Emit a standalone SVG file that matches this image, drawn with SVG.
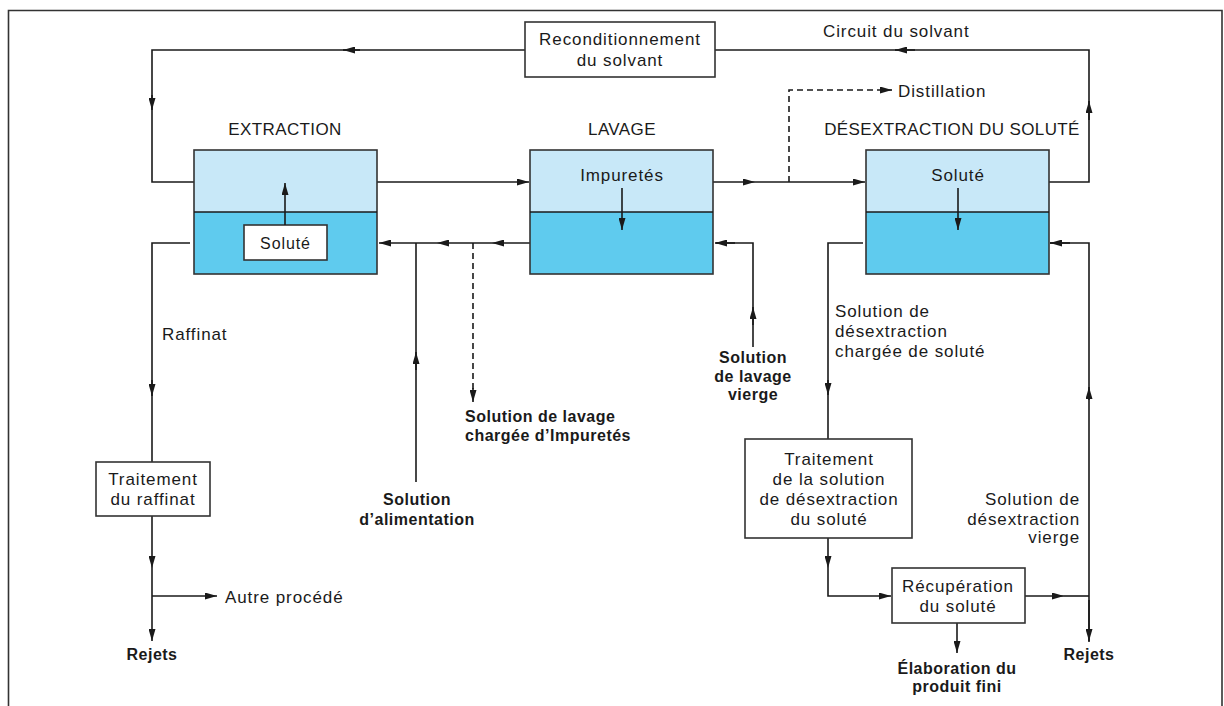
<svg xmlns="http://www.w3.org/2000/svg" width="1224" height="706" viewBox="0 0 1224 706">
<defs>
<marker id="ah" viewBox="0 0 12 7" refX="12" refY="3.5" markerWidth="12" markerHeight="7" markerUnits="userSpaceOnUse" orient="auto">
<path d="M0,0 L12,3.5 L0,7 z" fill="#1a1a1a"/>
</marker>
</defs>
<style>
text{font-family:"Liberation Sans",Arial,sans-serif;fill:#1a1a1a}
.r{font-size:17px;letter-spacing:0.9px}
.h{font-size:17px;letter-spacing:0.4px}
.b{font-size:16px;font-weight:bold;letter-spacing:0.5px}
.m{text-anchor:middle}
.e{text-anchor:end}
.ln{fill:none;stroke:#1a1a1a;stroke-width:1.6}
.ar{fill:none;stroke:#1a1a1a;stroke-width:1.6;marker-end:url(#ah)}
.da{stroke-dasharray:6,4}
.box{fill:#fff;stroke:#333;stroke-width:1.6}
.top{fill:#c8e8f8;stroke:none}
.bot{fill:#5fcbee;stroke:none}
.frm{fill:none;stroke:#333;stroke-width:1.6}
</style>
<rect width="1224" height="706" fill="#fff"/>
<path class="frm" d="M8.5,706 V10.5 H1222 V706"/>

<g id="connectors">
<path class="ln" d="M1049,182 H1089 V101"/>
<path class="ar" d="M1089,120 V101"/>
<path class="ln" d="M1089,101 V50 H895"/>
<path class="ar" d="M915,50 H895"/>
<path class="ln" d="M895,50 H715"/>
<path class="ln" d="M525,50 H343"/>
<path class="ar" d="M360,50 H343"/>
<path class="ln" d="M343,50 H152 V110"/>
<path class="ar" d="M152,95 V110"/>
<path class="ln" d="M152,110 V182 H194"/>
<path class="ar" d="M377,182 H529"/>
<path class="ar" d="M713,182 H755"/>
<path class="ar" d="M755,182 H865"/>
<path class="ln da" d="M789,182 V90 H880"/>
<path class="ar" d="M880,90 H892"/>
<path class="ar" d="M530,243 H492"/>
<path class="ar" d="M492,243 H437"/>
<path class="ar" d="M437,243 H379"/>
<path class="ln" d="M416,482 V352"/>
<path class="ar" d="M416,370 V352"/>
<path class="ln" d="M416,352 V243"/>
<path class="ln da" d="M473,243 V390"/>
<path class="ar" d="M473,388 V402"/>
<path class="ln" d="M190,243 H152 V396"/>
<path class="ar" d="M152,380 V396"/>
<path class="ln" d="M152,396 V462"/>
<path class="ar" d="M152,516 V568"/>
<path class="ar" d="M152,568 V641"/>
<path class="ar" d="M152,596 H217"/>
<path class="ln" d="M753,347 V307"/>
<path class="ar" d="M753,325 V307"/>
<path class="ln" d="M753,307 V243 H716"/>
<path class="ar" d="M735,243 H715"/>
<path class="ln" d="M863,243 H828 V395"/>
<path class="ar" d="M828,380 V395"/>
<path class="ln" d="M828,395 V439"/>
<path class="ln" d="M1089,642 V243 H1050"/>
<path class="ar" d="M1089,400 V387"/>
<path class="ar" d="M1070,243 H1050"/>
<path class="ar" d="M1089,600 V641"/>
<path class="ar" d="M828,538 V568"/>
<path class="ar" d="M828,568 V596 H891"/>
<path class="ar" d="M1025,596 H1064"/>
<path class="ln" d="M1064,596 H1089"/>
<path class="ar" d="M957,623 V653"/>
</g>

<g id="extraction">
<rect class="top" x="194" y="150" width="183" height="62"/>
<rect class="bot" x="194" y="212" width="183" height="62"/>
<rect class="frm" x="194" y="150" width="183" height="124"/>
<line class="ln" x1="194" y1="212" x2="377" y2="212"/>
<text class="h m" x="285" y="135">EXTRACTION</text>
<rect class="box" x="244" y="225" width="83" height="35"/>
<text class="r m" x="285.5" y="249" style="font-size:16px">Soluté</text>
<path class="ar" d="M285,225 V183"/>
</g>

<g id="lavage">
<rect class="top" x="530" y="150" width="183" height="62"/>
<rect class="bot" x="530" y="212" width="183" height="62"/>
<rect class="frm" x="530" y="150" width="183" height="124"/>
<line class="ln" x1="530" y1="212" x2="713" y2="212"/>
<text class="h m" x="622" y="135">LAVAGE</text>
<text class="r m" x="622" y="181">Impuretés</text>
<path class="ar" d="M622,188 V230"/>
</g>

<g id="desextraction">
<rect class="top" x="866" y="150" width="183" height="62"/>
<rect class="bot" x="866" y="212" width="183" height="62"/>
<rect class="frm" x="866" y="150" width="183" height="124"/>
<line class="ln" x1="866" y1="212" x2="1049" y2="212"/>
<text class="h m" x="952" y="135">DÉSEXTRACTION DU SOLUTÉ</text>
<text class="r m" x="958" y="181">Soluté</text>
<path class="ar" d="M958,188 V230"/>
</g>

<g id="reconditionnement">
<rect class="box" x="525" y="22" width="190" height="55"/>
<text class="r m" x="620" y="45">Reconditionnement</text>
<text class="r m" x="620" y="66">du solvant</text>
</g>

<g id="traitement-raffinat">
<rect class="box" x="96" y="462" width="114" height="54"/>
<text class="r m" x="153" y="485">Traitement</text>
<text class="r m" x="153" y="505">du raffinat</text>
</g>

<g id="traitement-desextraction">
<rect class="box" x="745" y="439" width="167" height="99"/>
<text class="r m" x="829" y="465">Traitement</text>
<text class="r m" x="829" y="485">de la solution</text>
<text class="r m" x="829" y="505">de désextraction</text>
<text class="r m" x="829" y="525">du soluté</text>
</g>

<g id="recuperation">
<rect class="box" x="892" y="568" width="133" height="55"/>
<text class="r m" x="958" y="592">Récupération</text>
<text class="r m" x="958" y="612">du soluté</text>
</g>

<g id="labels">
<text class="r" x="823" y="37">Circuit du solvant</text>
<text class="r" x="898" y="97">Distillation</text>
<text class="r" x="162" y="340">Raffinat</text>
<text class="r" x="225" y="603">Autre procédé</text>
<text class="b m" x="152" y="660">Rejets</text>
<text class="b m" x="417" y="505">Solution</text>
<text class="b m" x="417" y="525">d’alimentation</text>
<text class="b" x="465" y="422">Solution de lavage</text>
<text class="b" x="465" y="441">chargée d’Impuretés</text>
<text class="b m" x="753" y="363">Solution</text>
<text class="b m" x="753" y="382">de lavage</text>
<text class="b m" x="753" y="400">vierge</text>
<text class="r" x="835" y="317">Solution de</text>
<text class="r" x="835" y="337">désextraction</text>
<text class="r" x="835" y="357">chargée de soluté</text>
<text class="r e" x="1080" y="505">Solution de</text>
<text class="r e" x="1080" y="525">désextraction</text>
<text class="r e" x="1080" y="543">vierge</text>
<text class="b m" x="957" y="674">Élaboration du</text>
<text class="b m" x="957" y="692">produit fini</text>
<text class="b m" x="1089" y="660">Rejets</text>
</g>
</svg>
